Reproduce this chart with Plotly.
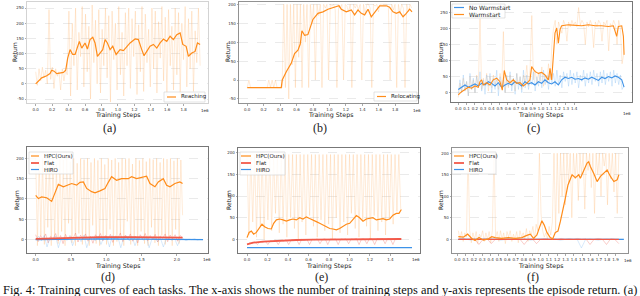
import plotly.graph_objects as go
import numpy as np

W, H = 640, 296

# ---------------- data (steps in units of 1e6) ----------------
# (a) Reaching
a_steps = [0, 0.032, 0.073, 0.134, 0.174, 0.195, 0.223, 0.256, 0.296, 0.337, 0.365, 0.389, 0.418, 0.450,
           0.479, 0.507, 0.531, 0.560, 0.600, 0.629, 0.661, 0.694, 0.722, 0.751, 0.783, 0.815, 0.844, 0.872,
           0.905, 0.937, 0.978, 1.026, 1.067, 1.108, 1.148, 1.209, 1.249, 1.290, 1.318, 1.351, 1.391, 1.432,
           1.473, 1.513, 1.554, 1.594, 1.635, 1.675, 1.716, 1.757, 1.789, 1.830, 1.858, 1.899, 1.939, 1.968, 2.0]
a_reaching = [0, 9, 20, 27, 34, 45, 42, 34, 36, 38, 45, 85, 113, 97, 97, 124, 140, 118, 135, 115, 146, 154,
              135, 91, 102, 113, 146, 135, 113, 124, 97, 113, 110, 124, 135, 148, 146, 113, 93, 107, 124, 130,
              118, 135, 148, 140, 157, 146, 162, 168, 130, 124, 91, 102, 107, 135, 130]
a_raw = [40, -5, 50, 10, 55, 20, 45, 0, 245, 15, 55, -15, 50, 25, 40, -20, 50, 10, 45, 30,
         240, -40, 200, 60, 250, -20, 170, 90, 255, -10, 230, 40, 190, -50, 260, 70, 210, 0, 245, -30,
         180, 60, 250, 20, 225, -60, 240, 80, 200, -20, 255, 30, 170, -40, 235, 60, 250, -15, 215, 90,
         240, -35, 195, 40, 255, -25, 230, 70, 180, -10, 250, 50, 240, -30, 205, 85, 255, 10, 220, -40,
         245, 60, 190, -20, 250, 30, 235, -35, 200, 80, 255, -10, 215, 50, 240, -25, 175, 70, 250, 60]

# (b) Relocating
b_steps = [0, 0.191, 0.414, 0.426, 0.475, 0.535, 0.576, 0.617, 0.645, 0.665, 0.698, 0.738, 0.767, 0.799,
           0.860, 0.921, 0.982, 1.043, 1.116, 1.144, 1.205, 1.266, 1.306, 1.347, 1.387, 1.428, 1.469, 1.509,
           1.550, 1.611, 1.692, 1.732, 1.773, 1.813, 1.854, 1.895, 1.935, 1.976, 2.004]
b_relocating = [-20, -20, -20, 0, 22, 44, 70, 79, 95, 130, 118, 120, 140, 160, 176, 180, 187, 192, 196, 187,
                180, 185, 172, 185, 176, 172, 187, 167, 180, 196, 196, 192, 180, 176, 180, 167, 176, 187, 180]
b_raw = [-20, 0, -20, -20, -20, -20, -20, -20, -20, -20, -20, -20, -20, 0, -20, 0, -20, 0, -20, -20, -20, -20,
         200, -20, 200, -50, 200, 40, 200, -20, 200, 60, 200, -20, 200, 100, 200, -20, 200, 150, 200, 0,
         200, 170, 200, -20,
         200, 190, 200, 0, 200, 195, 200, 185, -20, 200, 190, 200, 0, 200, 195, 180, 200, -20, 200, 190,
         200, 185, 200, 0, 200, 175, 200, 200, 190, -20, 200, 195, 200, 180, 200, 200, 200, 200, 200, 190,
         0, 200, 185, 200, -20, 200, 175, 200, 190, -20, 200, 180, 200, 190]

# (c) Warmstart vs No Warmstart
c_steps_nw = [0, 0.040, 0.081, 0.121, 0.161, 0.202, 0.242, 0.282, 0.323, 0.363, 0.403, 0.444, 0.484, 0.524,
              0.565, 0.605, 0.645, 0.685, 0.726, 0.766, 0.806, 0.847, 0.887, 0.927, 0.968, 1.008, 1.048, 1.089,
              1.129, 1.169, 1.210, 1.250, 1.290, 1.331, 1.371, 1.411, 1.452, 1.492, 1.532, 1.573, 1.613, 1.653,
              1.694, 1.734, 1.774, 1.815, 1.855, 1.895, 1.935, 1.976, 2.004]
c_no_warmstart = [10, 17, 24, 17, 21, 27, 21, 29, 24, 34, 29, 21, 31, 17, 24, 29, 24, 34, 29, 21, 34, 27, 31,
                  24, 34, 29, 40, 31, 27, 34, 24, 40, 48, 44, 48, 42, 44, 40, 46, 42, 48, 44, 38, 48, 44, 50,
                  46, 52, 48, 40, 17]
c_steps_w = [0, 0.040, 0.081, 0.121, 0.161, 0.202, 0.242, 0.262, 0.282, 0.302, 0.343, 0.383, 0.423, 0.464,
             0.504, 0.532, 0.556, 0.585, 0.625, 0.665, 0.706, 0.746, 0.786, 0.827, 0.867, 0.887, 0.927, 0.968,
             1.008, 1.048, 1.089, 1.109, 1.129, 1.149, 1.169, 1.190, 1.210, 1.230, 1.250, 1.331, 1.411, 1.492,
             1.573, 1.653, 1.734, 1.815, 1.875, 1.915, 1.935, 1.976, 1.996, 2.004]
c_warmstart = [-7, 3, 10, 17, 14, 21, 17, 34, 40, 24, 31, 24, 40, 45, 34, 8, 69, 40, 31, 40, 29, 31, 21, 29,
               40, 81, 66, 60, 63, 55, 40, 76, 40, 102, 185, 201, 154, 196, 208, 211, 210, 208, 211, 208, 208,
               206, 208, 175, 206, 208, 175, 118]
c_raw_nw = [-5, 40, 0, 55, 5, 35, -10, 60, 10, 45, 0, 50, 15, 65, 5, 40, -5, 55, 20, 60, 0, 45, 10, 70, -10,
            50, 15, 40, 0, 55, 20, 65, 5, 45, -5, 60, 10, 50, 0, 70, 15, 55, 10, 40, 25, 65, 5, 50, 20, 60, 15,
            70, 25, 55, 10, 65, 30, 60, 20, 70, 25, 55, 15, 65, 35, 60, 20, 70, 25, 60, 30, 65, 15, 55, 35, 70,
            20, 60, 30, 65, 25, 70, 35, 60, 20, 65, 30, 70, 25, 60, 35, 65, 20, 70, 30, 60, 25, 55, 10, 20]
c_raw_w = [-15, 30, 0, 45, 5, 35, -10, 50, 10, 40, 0, 55, 20, 230, 10, 45, 20, 60, 5, 50, 15, 55, 25, 40, 10,
           60, 20, 190, 0, 40, 15, 55, 20, 45, 5, 60, 25, 50, 10, 55, 30, 85, 20, 75, 240, 40, 70, 25, 60, 35,
           80, 20, 55, 30, 90, 40, 150, 200, 225, 150, 220, 205, 185, 225, 210, 160, 220, 205, 225, 210, 220,
           205, 265, 210, 225, 215, 150, 220, 205, 225, 210, 140, 220, 205, 225, 215, 160, 220, 210, 225, 130,
           215, 205, 225, 210, 150, 225, 200, 90, 120]

# (d)
d_steps_hpc = [0, 0.038, 0.085, 0.156, 0.226, 0.274, 0.321, 0.392, 0.439, 0.509, 0.580, 0.627, 0.675, 0.722,
               0.792, 0.840, 0.910, 0.981, 1.028, 1.075, 1.146, 1.217, 1.311, 1.358, 1.429, 1.524, 1.571, 1.618,
               1.689, 1.736, 1.807, 1.854, 1.901, 1.972, 2.042, 2.080]
d_hpc = [109, 101, 105, 103, 94, 118, 136, 130, 134, 138, 134, 141, 142, 126, 118, 115, 120, 126, 141, 155,
         146, 150, 150, 155, 150, 155, 156, 138, 130, 142, 150, 134, 130, 138, 142, 138]
d_steps_flat = [0, 0.44, 0.91, 1.38, 1.85, 2.08]
d_flat = [2, 4, 6, 6, 5, 5]
d_steps_hiro = [0, 0.9, 1.5, 2.37]
d_hiro = [0, 2, 1, 0]
d_raw_hpc = [200, -15, 195, 10, 200, -12, 190, 30, 200, -15, 198, 0, 185, -10, 200, 20, 196, -15, 200, 40,
             192, -8, 200, -15, 188, 15, 200, -12, 197, 0, 200, -15, 190, 35, 200, -10, 195, -15, 200, 5,
             185, -12, 200, 25, 196, -15, 200, -5, 190, 10, 200, -15, 198, 45, 200, -12, 186, 0, 200, -15,
             195, 20, 200, -10, 192, -15, 200, 30, 197, -8, 200, -15, 190, 10, 200, -12, 198, 5, 200, -15,
             194, 25, 200, -10, 196, 60]
d_raw_flat = [12, -5, 10, 0, 14, -8, 8, 2, 15, -3, 10, -10, 13, 0, 9, 3, 16, -6, 11, 1, 14, -4, 8, -9, 12, 2,
              15, -3, 10, 0, 13, -7, 9, 3, 16, -5, 11, 1, 14, -4, 8, -8, 12, 2, 15, -3, 10, 0, 13, -6, 9, 3,
              14, -5, 11, 1, 12, -4, 10, 5]
d_raw_hiro = [0, 8, -3, 10, -18, 5, 0, 9, -20, 3, 6, -2, 10, -15, 4, 8, -5, 11, -20, 2, 7, -3, 9, -12, 5, 8,
              -18, 10, 2, 6, -20, 4, 9, -3, 7, -15, 3, 5, -2, 6, -20, 2, 4, -5, 3, -18, 1, 3, -2, 2, -15, 1,
              2, -3, 1, 0, 2, -1, 1, 0]

# (e)
e_steps_hpc = [0, 0.020, 0.042, 0.065, 0.091, 0.124, 0.146, 0.172, 0.205, 0.237, 0.260, 0.286, 0.319, 0.351,
               0.384, 0.416, 0.449, 0.481, 0.514, 0.546, 0.579, 0.611, 0.644, 0.676, 0.709, 0.741, 0.774, 0.807,
               0.839, 0.872, 0.904, 0.937, 0.969, 1.002, 1.034, 1.067, 1.099, 1.132, 1.164, 1.197, 1.229, 1.262,
               1.294, 1.327, 1.359, 1.392, 1.424, 1.457, 1.483, 1.506]
e_hpc = [4, 16, 19, 12, 16, 29, 35, 29, 25, 24, 37, 45, 47, 45, 42, 45, 47, 45, 50, 47, 52, 48, 45, 41, 37,
         33, 29, 25, 24, 22, 25, 31, 35, 37, 45, 55, 50, 42, 47, 48, 50, 45, 47, 48, 45, 47, 56, 60, 60, 69]
e_steps_flat = [0, 0.059, 0.156, 0.319, 0.481, 0.644, 0.969, 1.294, 1.506]
e_flat = [-11.5, -7.7, -5.4, -3, -1.5, -0.8, 0, 0.8, 0.8]
e_steps_hiro = [0, 1.61]
e_hiro = [-19, -19]
e_raw_hpc = [196, 10, 196, 40, 196, 5, 196, 30, 196, 0, 196, 45, 196, 20, 196, 60, 196, 15, 196, 35, 196, 5,
             196, 50, 196, 25, 196, 0, 196, 40, 196, 10, 196, 55, 196, 30, 196, 5, 196, 45, 196, 20, 196, 35,
             196, 0, 196, 50, 196, 15, 196, 40, 196, 10, 196, 60, 196, 25, 196, 5, 196, 45, 196, 30, 196, 0,
             196, 55, 196, 20, 196, 40, 196, 10, 196, 50, 196, 35, 196, 65, 196, 70]
e_raw_flat = [-12, -8, -10, -6, -12, -5, -7, -4, -12, -3, -5, -2, -12, -2, -4, -1, -12, -1, -3, 0, -12, 0, -2,
              0, -12, 0, -1, 1, -10, 0, 1, -12, 1, 0, 1, -12, 1, 0, 1, -10, 1, 0, 2, -12, 1, 1, -10, 2, 1, -12,
              2, 1, 2, -10, 2, 1, -12, 2, 1, 2]

# (f)
f_steps_hpc = [0.012, 0.072, 0.124, 0.173, 0.213, 0.261, 0.313, 0.373, 0.414, 0.454, 0.534, 0.614, 0.695,
               0.775, 0.835, 0.876, 0.916, 0.956, 0.984, 1.016, 1.044, 1.076, 1.116, 1.145, 1.177, 1.209, 1.237,
               1.265, 1.297, 1.329, 1.357, 1.378, 1.418, 1.458, 1.478, 1.518, 1.558, 1.578, 1.598, 1.639, 1.679,
               1.719, 1.759, 1.799, 1.839, 1.880, 1.920, 1.940]
f_hpc = [6, 5, 12, 2, -3, 4, -2, 1, 6, 4, 2, 4, 2, 4, 9, 12, 2, 10, 26, 43, 33, 16, 4, 1, 16, 19, 41, 64, 95,
         126, 142, 150, 143, 150, 142, 161, 177, 180, 169, 153, 134, 146, 153, 161, 146, 134, 138, 150]
f_steps_flat = [0.012, 1.94]
f_flat = [0, 0]
f_steps_hiro = [0.012, 2.0]
f_hiro = [0, 0]
f_raw_hpc = [20, 0, 18, -5, 15, 5, 200, 20, -8, 15, 0, 18, -10, 12, 5, 20, -5, 15, 0, 18, -8, 20, 200,
             5, 18, -5, 20, 0, 15, -10, 18, 5, 20, -5, 12, 0, 18, -8, 20, 5, 15, 0, 25, -5, 20, 10, 30, 0, 35,
             20, 200, 60, 20, 5, 15, 0, 30, 10, 40, 200, 20,
             200, 60, 200, 100, 200, 80, 200, 130, 200, 50, 200, 140, 200, 90, 200, 150, 200, 70, 200, 160,
             200, 120, 200, 60, 200, 150, 200, 100, 200, 170, 200, 80, 200, 140, 200, 110, 200, 60, 200]
f_raw_flat = [0, 2, 0, 1, 0, -12, 0, 1, -10, 0, 2, 0, 1, 0, 2, 0, -12, 0, 1, -10, 0, 2, 0, 1, 0, 2, 0, 1, 0,
              2, 0, 1, -12, 0, 2, 0, -12, 1, 0, -10]
f_raw_hiro = [0, 1, 0, -2, 0, 1, 0, 0, 1, 0, -2, 0, 1, 0, 0, 1, 0, -2, 0, 1, 0, 0, 1, 0, -2, 0, 1, 0, 0, -20,
              0, 1, 0, -2, 0, 1, 0, 0, 1, 0]

# ---------------- styling ----------------
ORANGE = "#ff8c1a"
ORANGE_RAW = "rgba(255,170,90,0.40)"
BLUE = "#3d92e8"
BLUE_RAW = "rgba(110,175,240,0.45)"
RED = "#f25a4a"
RED_RAW = "rgba(240,100,90,0.55)"

def fx(px):
    return px / W

def fy(py):
    return 1 - py / H

# pixel boxes (left, top, right, bottom), axis ranges, ticks
panels = [
    dict(box=(27, 2, 208, 103), xr=[-0.106, 2.096], yr=[-63, 270],
         xt=[0, 0.2, 0.4, 0.6, 0.8, 1.0, 1.2, 1.4, 1.6, 1.8], yt=[-50, 0, 50, 100, 150, 200, 250], frame="#c8c8c8"),
    dict(box=(239, 2, 418, 103), xr=[-0.10, 2.077], yr=[-60.6, 206],
         xt=[0, 0.2, 0.4, 0.6, 0.8, 1.0, 1.2, 1.4, 1.6, 1.8], yt=[-50, 0, 50, 100, 150, 200], frame="#777"),
    dict(box=(451, 2, 632, 102), xr=[-0.088, 2.10], yr=[-29, 282],
         xt=[round(0.1 * i, 1) for i in range(15)], yt=[0, 50, 100, 150, 200, 250], frame="#555"),
    dict(box=(27, 147, 208, 253), xr=[-0.123, 2.44], yr=[-33, 228],
         xt=[0, 0.5, 1.0, 1.5, 2.0], yt=[0, 50, 100, 150, 200], frame="#555"),
    dict(box=(238, 148, 420, 253), xr=[-0.088, 1.688], yr=[-31.5, 211],
         xt=[0, 0.2, 0.4, 0.6, 0.8, 1.0, 1.2, 1.4], yt=[0, 50, 100, 150, 200], frame="#555"),
    dict(box=(452, 148, 628, 253), xr=[-0.064, 2.05], yr=[-31.8, 212],
         xt=[round(0.1 * i, 1) for i in range(20)], yt=[0, 50, 100, 150, 200], frame="#777"),
]

fig = go.Figure()
layout = dict(width=W, height=H, margin=dict(l=0, r=0, t=0, b=0),
              paper_bgcolor="white", plot_bgcolor="white", showlegend=False)

for i, p in enumerate(panels, start=1):
    l, t, r, b = p["box"]
    xk = "xaxis" if i == 1 else f"xaxis{i}"
    yk = "yaxis" if i == 1 else f"yaxis{i}"
    xa = "x" if i == 1 else f"x{i}"
    ya = "y" if i == 1 else f"y{i}"
    layout[xk] = dict(domain=[fx(l), fx(r)], range=p["xr"], anchor=ya, showgrid=False, zeroline=False,
                      tickvals=p["xt"], ticktext=[f"{v:.1f}" for v in p["xt"]], tickangle=0,
                      tickfont=dict(size=4, color="#333", family="DejaVu Sans"), ticks="outside",
                      ticklen=2, tickwidth=0.5, tickcolor="#555",
                      showline=True, mirror=True, linecolor=p["frame"], linewidth=0.8)
    layout[yk] = dict(domain=[fy(b), fy(t)], range=p["yr"], anchor=xa, zeroline=False,
                      showgrid=True, gridcolor="#dcdcdc", gridwidth=0.6, griddash="dash",
                      tickvals=p["yt"], ticktext=[str(v) for v in p["yt"]],
                      tickfont=dict(size=4, color="#333", family="DejaVu Sans"), ticks="outside",
                      ticklen=1.5, tickwidth=0.5, tickcolor="#555",
                      showline=True, mirror=True, linecolor=p["frame"], linewidth=0.8)

def axes(i):
    return ("x" if i == 1 else f"x{i}", "y" if i == 1 else f"y{i}")

def line(i, x, y, color, width):
    xa, ya = axes(i)
    fig.add_trace(go.Scatter(x=x, y=y, mode="lines", line=dict(color=color, width=width),
                             xaxis=xa, yaxis=ya, hoverinfo="skip", showlegend=False))

def raw(i, start, end, vals, color, width=0.6):
    line(i, np.linspace(start, end, len(vals)), vals, color, width)

# (a)
raw(1, 0, 2.0, a_raw, ORANGE_RAW)
line(1, a_steps, a_reaching, ORANGE, 1.2)
# (b)
raw(2, 0, 2.0, b_raw, ORANGE_RAW)
line(2, b_steps, b_relocating, ORANGE, 1.2)
# (c)
raw(3, 0, 2.0, c_raw_w, ORANGE_RAW)
raw(3, 0, 2.0, c_raw_nw, BLUE_RAW)
line(3, c_steps_nw, c_no_warmstart, BLUE, 1.1)
line(3, c_steps_w, c_warmstart, ORANGE, 1.1)
# (d)
raw(4, 0, 2.08, d_raw_hpc, ORANGE_RAW)
raw(4, 0, 2.08, d_raw_flat, RED_RAW)
raw(4, 0, 2.37, d_raw_hiro, BLUE_RAW)
line(4, d_steps_hiro, d_hiro, BLUE, 1.2)
line(4, d_steps_flat, d_flat, RED, 1.8)
line(4, d_steps_hpc, d_hpc, ORANGE, 1.2)
# (e)
raw(5, 0, 1.5, e_raw_hpc, ORANGE_RAW)
raw(5, 0, 1.5, e_raw_flat, RED_RAW)
line(5, e_steps_hiro, e_hiro, BLUE, 1.4)
line(5, e_steps_flat, e_flat, RED, 1.8)
line(5, e_steps_hpc, e_hpc, ORANGE, 1.2)
# (f)
raw(6, 0.012, 1.94, f_raw_hpc, ORANGE_RAW)
raw(6, 0.012, 1.94, f_raw_flat, RED_RAW)
raw(6, 0.012, 2.0, f_raw_hiro, BLUE_RAW)
line(6, f_steps_hiro, f_hiro, BLUE, 1.2)
line(6, f_steps_flat, f_flat, RED, 1.2)
line(6, f_steps_hpc, f_hpc, ORANGE, 1.2)

ann = []
shapes = []

def text(x, y, s, size, family="DejaVu Sans", xanchor="center", angle=0, color="#222"):
    ann.append(dict(x=fx(x), y=fy(y), xref="paper", yref="paper", text=s, showarrow=False,
                    xanchor=xanchor, yanchor="middle", textangle=angle,
                    font=dict(size=size, family=family, color=color)))

# axis titles, offsets, panel labels
xlab = [(117, 115.5), (330, 115.5), (540, 115.5), (117, 265.5), (328, 265.5), (540, 265.5)]
ylab = [(15, 52), (228, 52), (441, 52), (16, 200), (228, 200), (440, 200)]
off = [(205, 110), (417, 110), (627, 113), (207, 259), (416, 259), (628, 260)]
plab = [(109, 128, "(a)"), (320, 128, "(b)"), (533, 128, "(c)"),
        (108, 277, "(d)"), (321, 277, "(e)"), (533, 277, "(f)")]
for (x, y) in xlab:
    text(x, y, "Training Steps", 6.3)
for (x, y) in ylab:
    text(x, y, "Return", 6, angle=-90)
for (x, y) in off:
    text(x, y, "1e6", 4)
for (x, y, s) in plab:
    text(x, y, s, 12, family="Liberation Serif")

text(1, 290, "Fig. 4: Training curves of each tasks. The x-axis shows the number of training steps and "
             "y-axis represents the episode return. (a)", 12.4, family="Liberation Serif", xanchor="left",
     color="#111")

# manual legends
def legend_box(l, t, r, b):
    shapes.append(dict(type="rect", xref="paper", yref="paper", x0=fx(l), x1=fx(r), y0=fy(b), y1=fy(t),
                       fillcolor="rgba(255,255,255,0.85)", line=dict(color="#d0d0d0", width=0.6), layer="above"))

def legend_item(x0, x1, y, color, width, label, size=5.5):
    shapes.append(dict(type="line", xref="paper", yref="paper", x0=fx(x0), x1=fx(x1), y0=fy(y), y1=fy(y),
                       line=dict(color=color, width=width), layer="above"))
    text(x1 + 3, y, label, size, xanchor="left")

legend_box(164, 92, 205, 102)
legend_item(167, 176, 97, ORANGE, 1.2, "Reaching")
legend_box(374, 92, 417, 101)
legend_item(377, 386, 96.5, ORANGE, 1.2, "Relocating")
legend_box(452, 4, 505, 18)
legend_item(454, 464, 7.5, BLUE, 1.2, "No Warmstart", 6)
legend_item(454, 464, 14.5, ORANGE, 1.2, "Warmstart", 6)
for (l, t, r, b, lx0, lx1) in [(29, 152, 73, 174, 31, 39), (240, 152, 285, 175, 241, 251),
                                (452, 152, 496, 174, 454, 464)]:
    legend_box(l, t, r, b)
    legend_item(lx0, lx1, 156, ORANGE, 1.2, "HPC(Ours)")
    legend_item(lx0, lx1, 163, RED, 1.8, "Flat")
    legend_item(lx0, lx1, 169.5, BLUE, 1.2, "HIRO")

layout["annotations"] = ann
layout["shapes"] = shapes
fig.update_layout(**layout)
fig.write_html("out.html", config={"displayModeBar": False, "staticPlot": True},
               post_script="document.body.style.margin='0';document.body.style.overflow='hidden';")
